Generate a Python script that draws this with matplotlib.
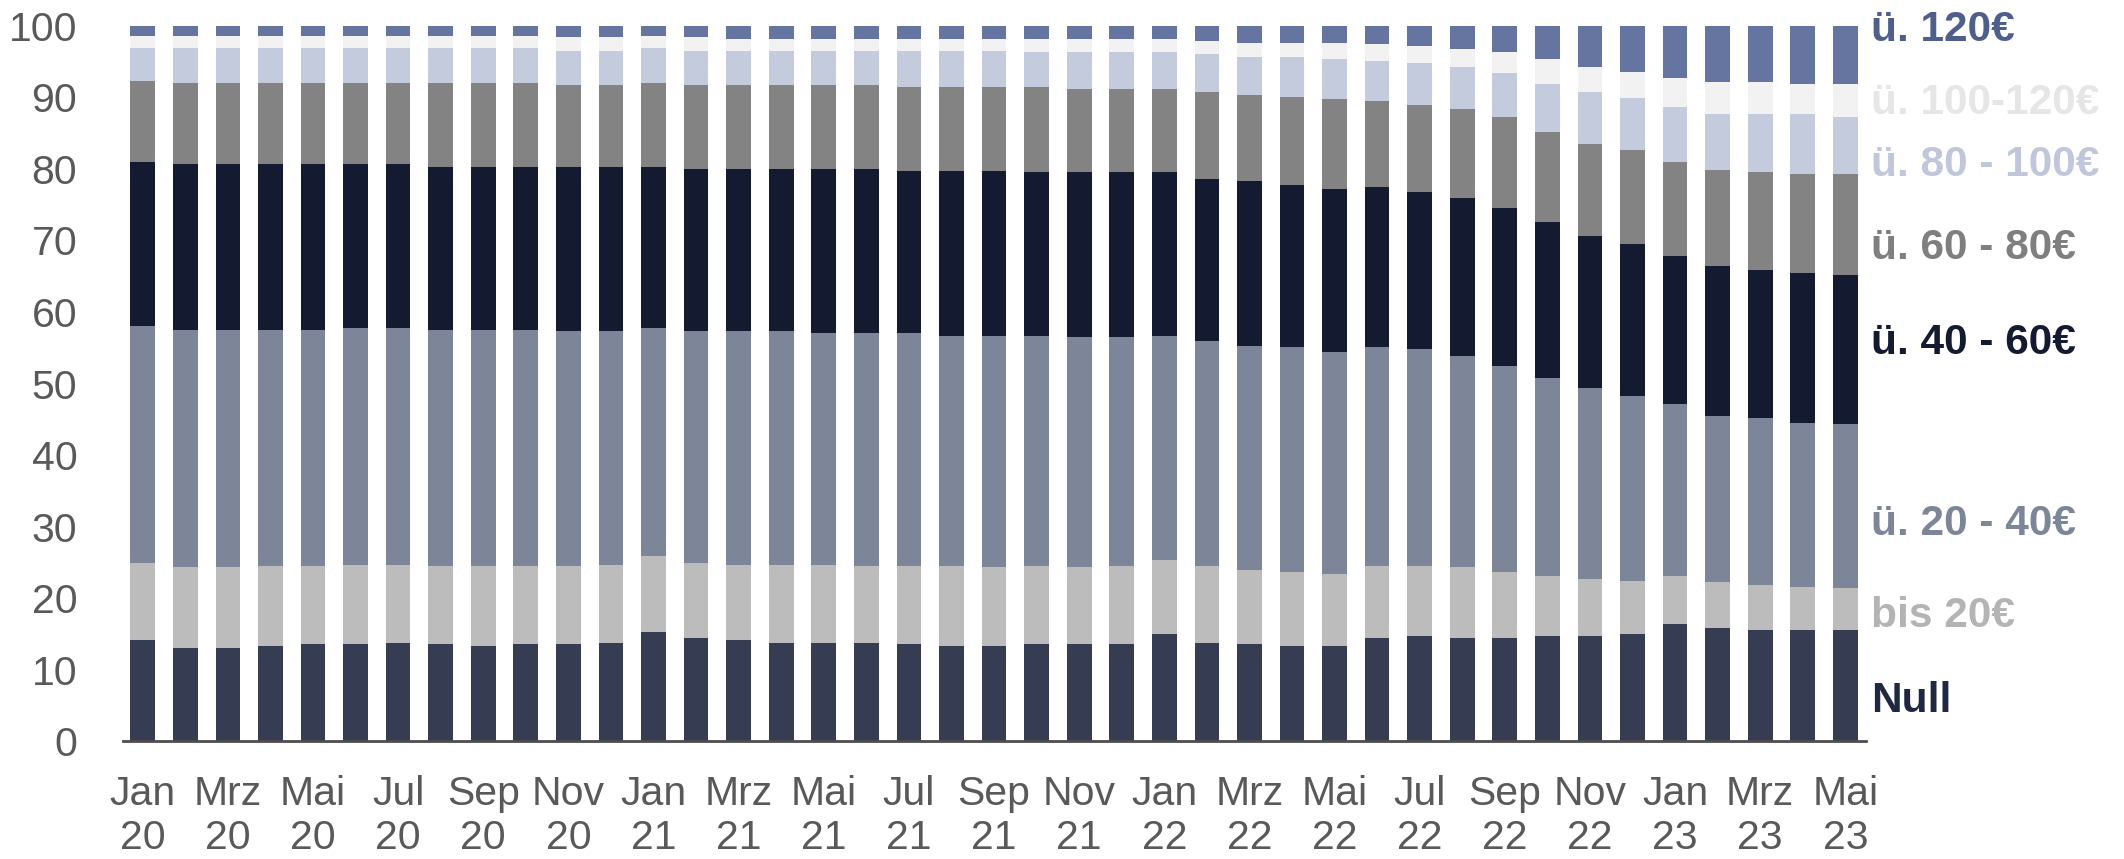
import matplotlib
matplotlib.use('Agg')
import matplotlib.pyplot as plt
import numpy as np

plt.rcParams['font.family'] = ['Liberation Sans', 'DejaVu Sans']

# months Jan 2020 .. May 2023
months = ['Jan', 'Feb', 'Mrz', 'Apr', 'Mai', 'Jun', 'Jul', 'Aug', 'Sep', 'Okt', 'Nov', 'Dez']
periods = [(m, y) for y in ['20', '21', '22', '23'] for m in months][:41]

# shares in percent per segment (bottom to top)
null = [14.1, 13.0, 13.0, 13.3, 13.6, 13.6, 13.8, 13.6, 13.3, 13.6, 13.6, 13.8, 15.3, 14.4,
        14.1, 13.8, 13.8, 13.8, 13.6, 13.3, 13.3, 13.6, 13.6, 13.6, 15.0, 13.8, 13.6, 13.3,
        13.3, 14.4, 14.7, 14.4, 14.4, 14.7, 14.7, 15.0, 16.4, 15.8, 15.5, 15.5, 15.5]
bis20 = [10.8, 11.3, 11.3, 11.2, 10.9, 11.1, 10.9, 10.9, 11.2, 10.9, 10.9, 10.9, 10.6, 10.5,
         10.6, 10.9, 10.9, 10.7, 10.9, 11.2, 11.0, 10.9, 10.7, 10.9, 10.3, 10.7, 10.3, 10.4,
         10.1, 10.1, 9.8, 9.9, 9.3, 8.4, 8.0, 7.4, 6.7, 6.4, 6.4, 6.1, 5.9]
u20_40 = [33.1, 33.2, 33.2, 33.0, 33.0, 33.1, 33.1, 33.0, 33.0, 33.0, 32.8, 32.6, 31.9, 32.4,
          32.6, 32.6, 32.3, 32.5, 32.5, 32.2, 32.4, 32.2, 32.2, 32.0, 31.4, 31.4, 31.4, 31.4,
          31.0, 30.6, 30.3, 29.6, 28.8, 27.7, 26.7, 25.9, 24.0, 23.2, 23.3, 22.9, 22.9]
u40_60 = [22.9, 23.2, 23.2, 23.2, 23.2, 22.9, 22.9, 22.8, 22.8, 22.8, 23.0, 23.0, 22.5, 22.7,
          22.7, 22.7, 23.0, 23.0, 22.7, 23.0, 23.0, 22.8, 23.0, 23.0, 22.8, 22.7, 23.0, 22.6,
          22.8, 22.3, 22.0, 22.1, 22.1, 21.8, 21.2, 21.2, 20.7, 21.0, 20.6, 21.0, 20.9]
u60_80 = [11.4, 11.3, 11.3, 11.3, 11.3, 11.3, 11.3, 11.7, 11.7, 11.7, 11.4, 11.4, 11.7, 11.7,
          11.7, 11.7, 11.7, 11.7, 11.8, 11.8, 11.8, 12.0, 11.7, 11.7, 11.7, 12.1, 12.0, 12.3,
          12.6, 12.1, 12.1, 12.3, 12.7, 12.6, 12.9, 13.1, 13.1, 13.4, 13.7, 13.8, 14.1]
u80_100 = [4.6, 4.9, 4.9, 4.9, 4.9, 4.9, 4.9, 4.9, 4.9, 4.9, 4.8, 4.8, 4.9, 4.8,
           4.8, 4.8, 4.8, 4.8, 5.0, 5.0, 5.0, 4.8, 5.1, 5.1, 5.1, 5.3, 5.4, 5.7,
           5.6, 5.6, 5.9, 5.9, 6.1, 6.7, 7.3, 7.3, 7.8, 7.8, 8.1, 8.3, 8.0]
u100_120 = [1.7, 1.7, 1.7, 1.7, 1.7, 1.7, 1.7, 1.7, 1.7, 1.7, 2.0, 2.0, 1.7, 1.9,
            1.7, 1.7, 1.7, 1.7, 1.7, 1.7, 1.7, 1.9, 1.9, 1.9, 1.9, 1.9, 1.9, 1.9,
            2.2, 2.3, 2.4, 2.6, 2.9, 3.5, 3.4, 3.7, 4.0, 4.6, 4.6, 4.3, 4.6]
u120 = [1.4, 1.4, 1.4, 1.4, 1.4, 1.4, 1.4, 1.4, 1.4, 1.4, 1.5, 1.5, 1.4, 1.6,
        1.8, 1.8, 1.8, 1.8, 1.8, 1.8, 1.8, 1.8, 1.8, 1.8, 1.8, 2.1, 2.4, 2.4,
        2.4, 2.6, 2.8, 3.2, 3.7, 4.6, 5.8, 6.4, 7.3, 7.8, 7.8, 8.1, 8.1]

series = [null, bis20, u20_40, u40_60, u60_80, u80_100, u100_120, u120]
names = ['Null', 'bis 20€', 'ü. 20 - 40€', 'ü. 40 - 60€', 'ü. 60 - 80€',
         'ü. 80 - 100€', 'ü. 100-120€', 'ü. 120€']
colors = ['#363d52', '#bcbcbc', '#7d8699', '#141a30', '#838383', '#c4cbdd', '#f2f2f2', '#6675a0']
label_colors = ['#1f2840', '#b4b4b4', '#7d8699', '#141a30', '#7f7f7f', '#c0c7da', '#e6e6e6', '#4f5f8c']
label_y = [5.6, 17.5, 30.4, 55.6, 69.0, 80.6, 89.2, 99.4]

fig = plt.figure(figsize=(21.24, 8.59), dpi=100)
ax = fig.add_axes([0.058, 0.137, 0.8206, 0.833])

x = np.arange(len(periods))
bottom = np.zeros(len(periods))
for vals, col in zip(series, colors):
    vals = np.array(vals)
    ax.bar(x, vals, bottom=bottom, width=0.58, color=col, linewidth=0)
    bottom += vals

for name, col, yy in zip(names, label_colors, label_y):
    ax.text(40.6, yy, name, color=col, fontsize=30.5, fontweight='bold',
            ha='left', va='center', clip_on=False)

ax.set_xlim(-0.46, 40.49)
ax.set_ylim(0, 100)
ax.set_yticks(np.arange(0, 101, 10))
ax.set_xticks(x[::2])
ax.set_xticklabels([m + '\n' + y for m, y in periods[::2]], linespacing=1.2)
ax.tick_params(axis='both', length=0, labelsize=29.5, labelcolor='#595959')
ax.tick_params(axis='y', pad=33)
ax.tick_params(axis='x', pad=24)
for s in ['top', 'right', 'left']:
    ax.spines[s].set_visible(False)
ax.spines['bottom'].set_color('#4d4d4d')
ax.spines['bottom'].set_linewidth(2)

fig.savefig('out.png', dpi=100)
